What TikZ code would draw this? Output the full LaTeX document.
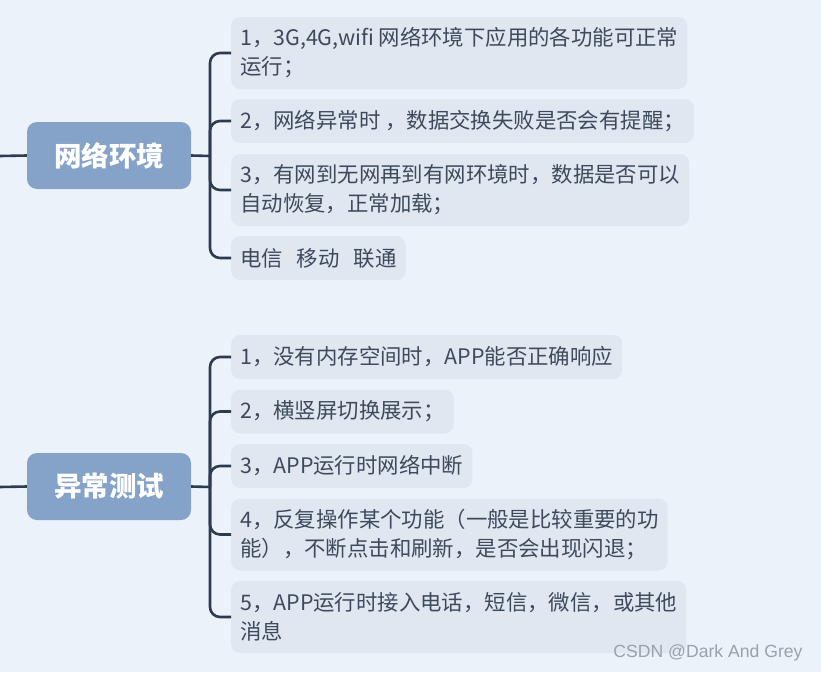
\documentclass[tikz,border=0pt]{standalone}
\usepackage{fontspec}
\setmainfont{Noto Sans CJK SC}
\newfontfamily\wmfont{Liberation Sans}
\definecolor{bg}{HTML}{EBF2FA}
\definecolor{leafc}{HTML}{E0E7F0}
\definecolor{parentc}{HTML}{85A2C8}
\definecolor{txt}{HTML}{3E4A5B}
\definecolor{linec}{HTML}{2E3B4E}
\definecolor{wm}{HTML}{9AA1AA}
\tikzset{
  parent/.style={fill=parentc, rounded corners=10pt, minimum width=164pt, minimum height=67pt, text=white, font=\fontsize{27.5}{30}\selectfont\bfseries, inner sep=0pt},
  leaf/.style={fill=leafc, rounded corners=9pt, anchor=west, align=left, text=txt, font=\fontsize{21.4}{29}\selectfont, inner xsep=9pt, inner ysep=0pt, minimum height=44pt},
  leaftwo/.style={leaf, minimum height=72pt},
  conn/.style={draw=linec, line width=2.6pt, rounded corners=10pt}
}
\begin{document}
\begin{tikzpicture}[x=1pt,y=-1pt]
\fill[bg] (0,0) rectangle (821,672);
\useasboundingbox (0,0) rectangle (821,672);

% group 1
\node[parent] (p1) at (109,155.5) {网络环境};
\coordinate (s1) at (0,156);
\coordinate (j1) at (210,156);
\node[leaftwo] (l1) at (231,53) {1，3G,4G,wifi 网络环境下应用的各功能可正常\\运行；};
\node[leaf] (l2) at (231,121) {2，网络异常时 ，数据交换失败是否会有提醒；};
\node[leaftwo] (l3) at (231,190) {3，有网到无网再到有网环境时，数据是否可以\\自动恢复，正常加载；};
\node[leaf] (l4) at (231,258) {电信\hspace{14pt}移动\hspace{14pt}联通};

\draw[conn] (s1) -- (p1.west);
\draw[conn] (p1.east) -- (j1);
\foreach \n in {l1,l2,l3,l4} \draw[conn] (j1) |- (\n.west);

% group 2
\node[parent] (p2) at (109,486.5) {异常测试};
\coordinate (s2) at (0,487);
\coordinate (j2) at (210,487);
\node[leaf] (b1) at (231,357) {1，没有内存空间时，APP能否正确响应};
\node[leaf] (b2) at (231,411.5) {2，横竖屏切换展示；};
\node[leaf] (b3) at (231,466) {3，APP运行时网络中断};
\node[leaftwo] (b4) at (231,534.5) {4，反复操作某个功能（一般是比较重要的功\\能），不断点击和刷新，是否会出现闪退；};
\node[leaftwo] (b5) at (231,617) {5，APP运行时接入电话，短信，微信，或其他\\消息};

\draw[conn] (s2) -- (p2.west);
\draw[conn] (p2.east) -- (j2);
\foreach \n in {b1,b2,b3,b4,b5} \draw[conn] (j2) |- (\n.west);

\node[text=wm, font=\wmfont\fontsize{17.6}{20}\selectfont, anchor=east] (wmk) at (806,653) {CSDN @Dark And Grey};
\end{tikzpicture}
\end{document}
